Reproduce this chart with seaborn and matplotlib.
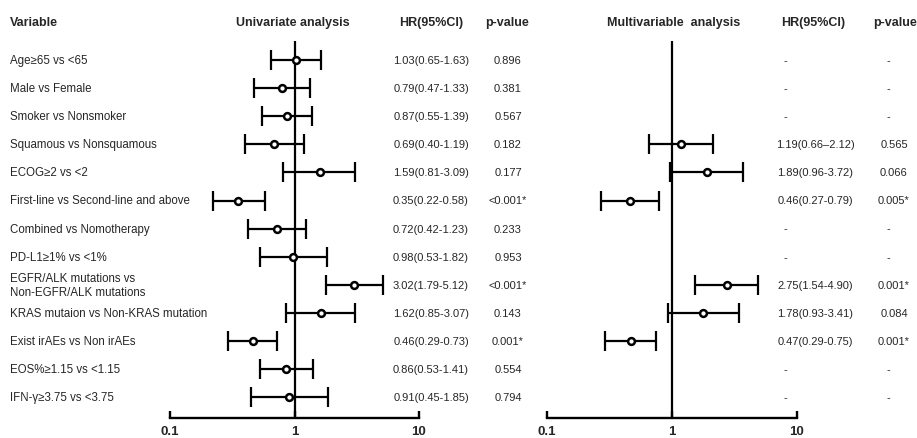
import numpy as np
import pandas as pd
import matplotlib
matplotlib.use("Agg")
import matplotlib.pyplot as plt
import matplotlib.transforms as mtransforms
import seaborn as sns

variables = ["Age≥65 vs <65", "Male vs Female", "Smoker vs Nonsmoker",
             "Squamous vs Nonsquamous", "ECOG≥2 vs <2",
             "First-line vs Second-line and above", "Combined vs Nomotherapy",
             "PD-L1≥1% vs <1%", "EGFR/ALK mutations vs\nNon-EGFR/ALK mutations",
             "KRAS mutaion vs Non-KRAS mutation", "Exist irAEs vs Non irAEs",
             "EOS%≥1.15 vs <1.15", "IFN-γ≥3.75 vs <3.75"]
uni_hr = [1.03, 0.79, 0.87, 0.69, 1.59, 0.35, 0.72, 0.98, 3.02, 1.62, 0.46, 0.86, 0.91]
uni_lo = [0.65, 0.47, 0.55, 0.40, 0.81, 0.22, 0.42, 0.53, 1.79, 0.85, 0.29, 0.53, 0.45]
uni_hi = [1.63, 1.33, 1.39, 1.19, 3.09, 0.58, 1.23, 1.82, 5.12, 3.07, 0.73, 1.41, 1.85]
uni_p = ["0.896", "0.381", "0.567", "0.182", "0.177", "<0.001*", "0.233", "0.953",
         "<0.001*", "0.143", "0.001*", "0.554", "0.794"]
nan = np.nan
multi_hr = [nan, nan, nan, 1.19, 1.89, 0.46, nan, nan, 2.75, 1.78, 0.47, nan, nan]
multi_lo = [nan, nan, nan, 0.66, 0.96, 0.27, nan, nan, 1.54, 0.93, 0.29, nan, nan]
multi_hi = [nan, nan, nan, 2.12, 3.72, 0.79, nan, nan, 4.90, 3.41, 0.75, nan, nan]
multi_p = ["-", "-", "-", "0.565", "0.066", "0.005*", "-", "-", "0.001*", "0.084",
           "0.001*", "-", "-"]
tick_vals = [0.1, 1, 10]
tick_labels = ["0.1", "1", "10"]

sns.set_theme(style="white")
plt.rcParams["font.family"] = ["Liberation Sans", "DejaVu Sans"]

W, H = 917, 439
fig = plt.figure(figsize=(W / 100, H / 100), dpi=100)

n = len(variables)
rows = np.arange(n)
df = pd.DataFrame({"var": variables, "row": rows, "uhr": uni_hr, "ulo": uni_lo,
                   "uhi": uni_hi, "mhr": multi_hr, "mlo": multi_lo, "mhi": multi_hi})

y_top_px, y_bot_px = 42, 419
row0_px, row_step = 61, 28.1
ylim_top = (y_top_px - row0_px) / row_step
ylim_bot = (y_bot_px - row0_px) / row_step


def make_axes(x0_px, x1_px):
    ax = fig.add_axes([x0_px / W, 1 - y_bot_px / H, (x1_px - x0_px) / W,
                       (y_bot_px - y_top_px) / H])
    ax.set_xscale("log")
    ax.set_xlim(0.1, 10)
    ax.set_ylim(ylim_bot, ylim_top)
    ax.patch.set_alpha(0)
    for s in ["top", "right", "left"]:
        ax.spines[s].set_visible(False)
    ax.spines["bottom"].set_linewidth(1.7)
    ax.spines["bottom"].set_color("black")
    ax.set_yticks([])
    ax.set_xticks(tick_vals)
    ax.set_xticklabels(tick_labels, fontsize=9.5, fontweight="bold")
    ax.minorticks_off()
    ax.tick_params(axis="x", direction="in", length=5, width=1.7, color="black",
                   bottom=True, pad=5)
    ax.axvline(1, color="black", lw=1.6, zorder=1)
    ax.set_xlabel("")
    ax.set_ylabel("")
    return ax


def draw_forest(ax, hr, lo, hi):
    sub = df[[hr, lo, hi, "row"]].dropna()
    xerr = np.vstack([sub[hr] - sub[lo], sub[hi] - sub[hr]])
    ax.errorbar(sub[hr], sub["row"], xerr=xerr, fmt="none", ecolor="black",
                elinewidth=1.6, capsize=7, capthick=1.6, zorder=2)
    sns.scatterplot(data=sub, x=hr, y="row", ax=ax, marker="o", s=24,
                    facecolor="white", edgecolor="black", linewidth=1.8,
                    zorder=3, legend=False)
    ax.set_xlabel("")
    ax.set_ylabel("")


axL = make_axes(170, 419)
draw_forest(axL, "uhr", "ulo", "uhi")
axR = make_axes(547, 797)
draw_forest(axR, "mhr", "mlo", "mhi")

tr = mtransforms.blended_transform_factory(fig.transFigure, axL.transData)
hy = 1 - 23 / H
fs_lab = 8.3
fs_val = 8
fs_head = 9

fig.text(10 / W, hy, "Variable", fontsize=fs_head, fontweight="bold", va="center", ha="left")
fig.text(293 / W, hy, "Univariate analysis", fontsize=fs_head, fontweight="bold", va="center", ha="center")
fig.text(431 / W, hy, "HR(95%CI)", fontsize=fs_head, fontweight="bold", va="center", ha="center")
fig.text(507 / W, hy, "p-value", fontsize=fs_head, fontweight="bold", va="center", ha="center")
fig.text(674 / W, hy, "Multivariable  analysis", fontsize=fs_head, fontweight="bold", va="center", ha="center")
fig.text(813 / W, hy, "HR(95%CI)", fontsize=fs_head, fontweight="bold", va="center", ha="center")
fig.text(895 / W, hy, "p-value", fontsize=fs_head, fontweight="bold", va="center", ha="center")

for i in range(n):
    fig.text(10 / W, i, variables[i], transform=tr, fontsize=fs_lab, va="center",
             ha="left", linespacing=1.25)
    fig.text(431 / W, i, f"{uni_hr[i]:.2f}({uni_lo[i]:.2f}-{uni_hi[i]:.2f})",
             transform=tr, fontsize=fs_val, va="center", ha="center")
    fig.text(508 / W, i, uni_p[i], transform=tr, fontsize=fs_val, va="center", ha="center")
    if np.isnan(multi_hr[i]):
        fig.text(785 / W, i, "-", transform=tr, fontsize=fs_val, va="center", ha="center")
        fig.text(888 / W, i, "-", transform=tr, fontsize=fs_val, va="center", ha="center")
    else:
        sep = "–" if i == 3 else "-"
        fig.text(815 / W, i, f"{multi_hr[i]:.2f}({multi_lo[i]:.2f}{sep}{multi_hi[i]:.2f})",
                 transform=tr, fontsize=fs_val, va="center", ha="center")
        fig.text(894 / W, i, multi_p[i], transform=tr, fontsize=fs_val, va="center", ha="center")

fig.savefig("out.png", dpi=100)
